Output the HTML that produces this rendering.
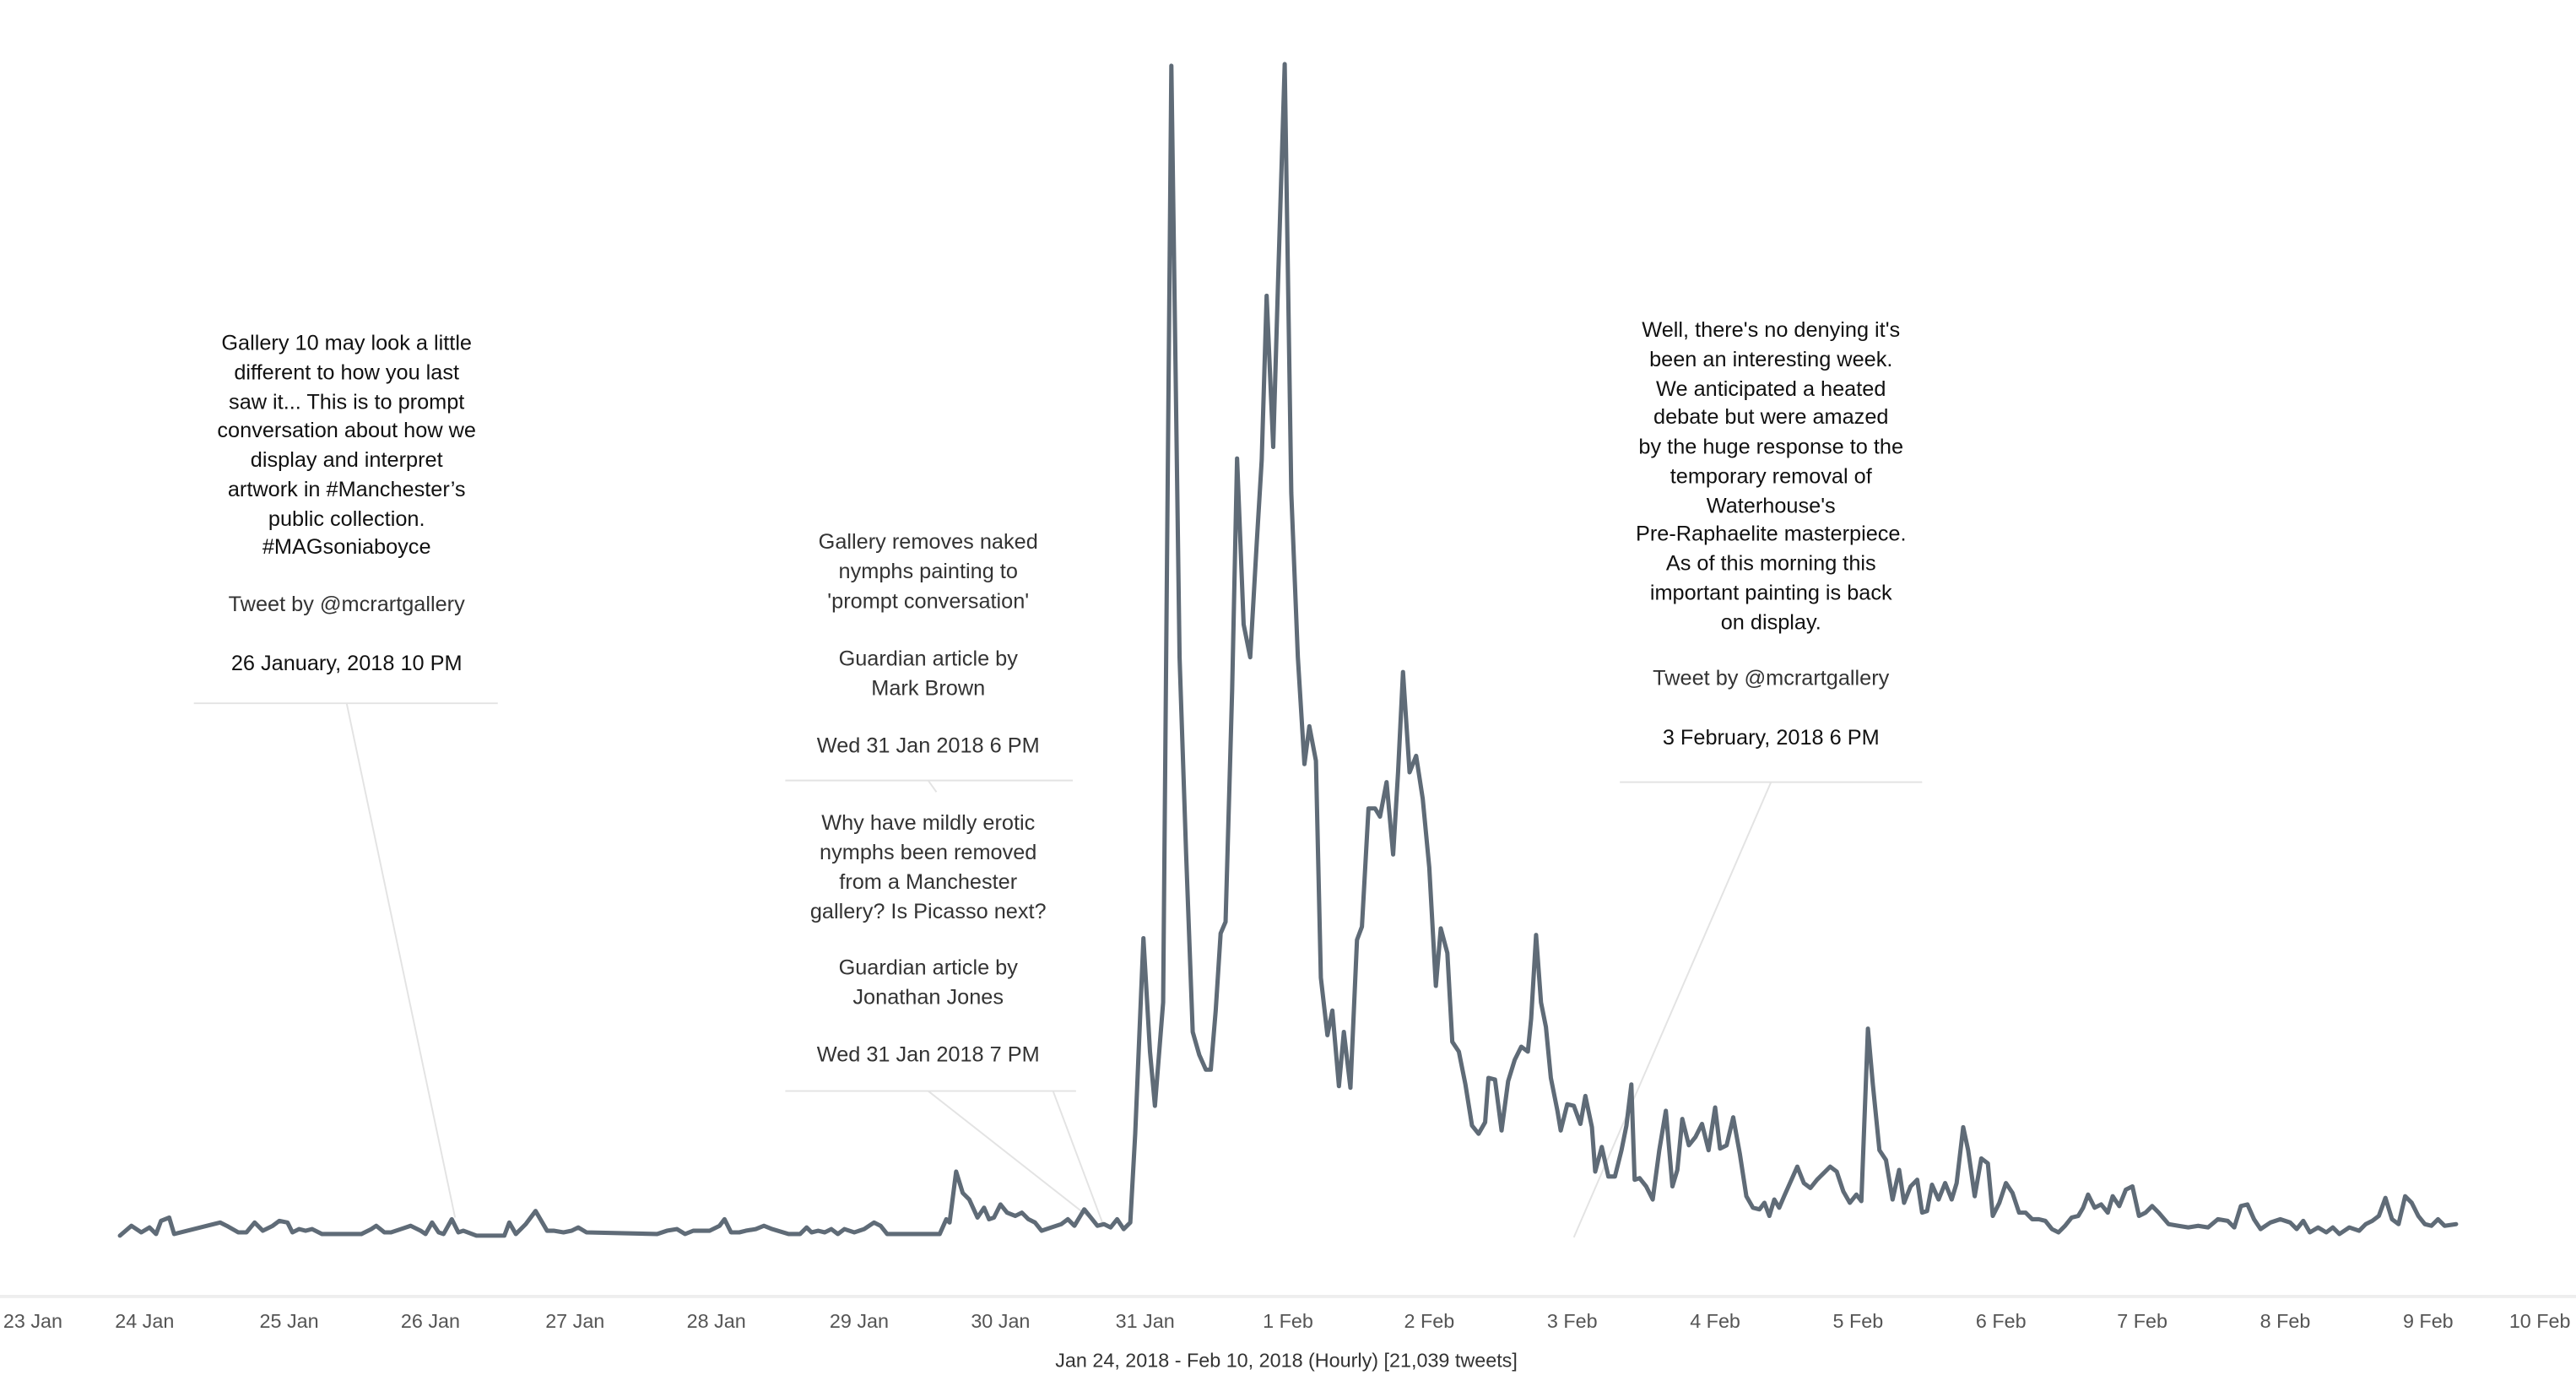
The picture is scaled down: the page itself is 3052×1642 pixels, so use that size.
<!DOCTYPE html>
<html><head><meta charset="utf-8"><style>
html,body{margin:0;padding:0;background:#fff;}
svg{display:block;}
text{font-family:"Liberation Sans",sans-serif;}
.a{font-size:13px;fill:#111;text-anchor:middle;}
.g{fill:#333;}
.t{font-size:12px;fill:#555;text-anchor:middle;}
</style></head><body>
<svg width="3052" height="1642" viewBox="0 0 1568 843.5" preserveAspectRatio="none">
<line x1="0" y1="789" x2="1568" y2="789" stroke="#eee" stroke-width="2"/>
<g class="t">
<text x="20" y="808">23 Jan</text><text x="88" y="808">24 Jan</text><text x="176" y="808">25 Jan</text>
<text x="262" y="808">26 Jan</text><text x="350" y="808">27 Jan</text><text x="436" y="808">28 Jan</text>
<text x="523" y="808">29 Jan</text><text x="609" y="808">30 Jan</text><text x="697" y="808">31 Jan</text>
<text x="784" y="808">1 Feb</text><text x="870" y="808">2 Feb</text><text x="957" y="808">3 Feb</text>
<text x="1044" y="808">4 Feb</text><text x="1131" y="808">5 Feb</text><text x="1218" y="808">6 Feb</text>
<text x="1304" y="808">7 Feb</text><text x="1391" y="808">8 Feb</text><text x="1478" y="808">9 Feb</text>
<text x="1546" y="808">10 Feb</text>
<text x="783" y="832" style="fill:#333">Jan 24, 2018 - Feb 10, 2018 (Hourly) [21,039 tweets]</text>
</g>
<g stroke="#e3e3e3" stroke-width="1" fill="none">
<line x1="118" y1="428" x2="303" y2="428"/><line x1="211" y1="428" x2="277" y2="741"/>
<line x1="478" y1="475" x2="653" y2="475"/><line x1="565" y1="475" x2="570" y2="482"/>
<line x1="478" y1="664" x2="655" y2="664"/><line x1="565" y1="664" x2="667" y2="744"/><line x1="641" y1="664" x2="671" y2="744"/>
<line x1="986" y1="476" x2="1170" y2="476"/><line x1="1078" y1="476" x2="958" y2="753"/>
</g>
<g class="a">
<text x="211" y="213">Gallery 10 may look a little</text>
<text x="211" y="231">different to how you last</text>
<text x="211" y="249">saw it... This is to prompt</text>
<text x="211" y="266">conversation about how we</text>
<text x="211" y="284">display and interpret</text>
<text x="211" y="302">artwork in #Manchester’s</text>
<text x="211" y="320">public collection.</text>
<text x="211" y="337">#MAGsoniaboyce</text>
<text x="211" y="372" class="g">Tweet by @mcrartgallery</text>
<text x="211" y="408">26 January, 2018 10 PM</text>

<text x="565" y="334" class="g">Gallery removes naked</text>
<text x="565" y="352" class="g">nymphs painting to</text>
<text x="565" y="370" class="g">'prompt conversation'</text>
<text x="565" y="405" class="g">Guardian article by</text>
<text x="565" y="423" class="g">Mark Brown</text>
<text x="565" y="458" class="g">Wed 31 Jan 2018 6 PM</text>

<text x="565" y="505" class="g">Why have mildly erotic</text>
<text x="565" y="523" class="g">nymphs been removed</text>
<text x="565" y="541" class="g">from a Manchester</text>
<text x="565" y="559" class="g">gallery? Is Picasso next?</text>
<text x="565" y="593" class="g">Guardian article by</text>
<text x="565" y="611" class="g">Jonathan Jones</text>
<text x="565" y="646" class="g">Wed 31 Jan 2018 7 PM</text>

<text x="1078" y="205">Well, there's no denying it's</text>
<text x="1078" y="223">been an interesting week.</text>
<text x="1078" y="241">We anticipated a heated</text>
<text x="1078" y="258">debate but were amazed</text>
<text x="1078" y="276">by the huge response to the</text>
<text x="1078" y="294">temporary removal of</text>
<text x="1078" y="312">Waterhouse's</text>
<text x="1078" y="329">Pre-Raphaelite masterpiece.</text>
<text x="1078" y="347">As of this morning this</text>
<text x="1078" y="365">important painting is back</text>
<text x="1078" y="383">on display.</text>
<text x="1078" y="417" class="g">Tweet by @mcrartgallery</text>
<text x="1078" y="453">3 February, 2018 6 PM</text>
</g>
<polyline fill="none" stroke="#5f6b77" stroke-width="2.6" stroke-linejoin="round" stroke-linecap="round" points="73,752 80,746 86,750 91,747 95,751 98,743 103,741 106,751 134,744 138,746 145,750 150,750 155,744 160,749 166,746 170,743 175,744 178,750 182,748 186,749 190,748 196,751 220,751 226,748 229,746 234,750 238,750 244,748 250,746 256,749 259,751 263,744 267,750 270,751 275,742 279,750 282,749 290,752 307,752 310,744 314,751 320,745 326,737 333,749 337,749 343,750 348,749 352,747 357,750 400,751 406,749 412,748 417,751 422,749 432,749 438,746 441,742 445,750 450,750 454,749 460,748 465,746 470,748 480,751 487,751 491,747 494,750 498,749 502,750 506,748 510,751 514,748 520,750 526,748 532,744 536,746 540,751 572,751 576,742 578,744 582,713 586,726 590,730 595,741 599,735 602,742 605,741 609,733 613,738 618,740 622,738 626,742 630,744 634,749 640,747 646,745 650,742 654,746 660,736 664,741 668,746 672,745 676,747 680,742 684,748 688,744 691,690 696,571 700,640 703,673 708,610 713,40 718,400 722,520 726,628 730,642 734,651 737,651 740,615 743,568 746,561 750,420 753,279 757,380 761,400 765,330 768,280 771,180 775,272 778,170 782,39 786,300 790,400 794,465 797,442 801,463 804,595 808,630 811,615 815,661 818,628 822,662 826,572 829,564 833,492 837,492 840,497 844,476 848,520 851,470 854,409 858,470 862,460 866,486 870,528 874,600 877,565 881,580 884,634 888,640 892,660 896,685 900,690 904,683 906,656 910,657 914,688 918,658 922,645 926,637 930,640 932,620 935,569 938,610 941,625 944,656 948,676 950,688 954,672 958,673 962,684 965,667 969,686 971,713 975,698 979,716 983,716 987,700 990,685 993,660 995,718 998,717 1002,722 1006,730 1010,700 1014,676 1018,722 1021,712 1024,681 1028,697 1032,692 1036,684 1040,700 1044,674 1047,699 1051,697 1055,680 1059,702 1063,728 1067,735 1071,736 1074,732 1077,740 1080,730 1083,735 1086,728 1090,719 1094,710 1098,720 1102,723 1106,718 1110,714 1114,710 1118,713 1122,725 1126,732 1130,727 1133,731 1137,626 1140,660 1144,700 1148,706 1152,730 1156,712 1159,732 1163,722 1167,718 1170,738 1173,737 1176,721 1180,730 1184,720 1188,730 1191,720 1195,686 1198,700 1202,728 1206,705 1210,708 1213,740 1217,732 1221,720 1225,726 1229,738 1233,738 1237,742 1241,742 1245,743 1249,748 1253,750 1257,746 1261,741 1265,740 1268,735 1271,727 1275,735 1279,733 1283,738 1286,728 1290,734 1294,724 1298,722 1302,740 1306,738 1310,734 1314,738 1320,745 1326,746 1332,747 1338,746 1344,747 1350,742 1356,743 1360,747 1364,734 1368,733 1372,742 1376,748 1382,744 1388,742 1394,744 1398,748 1402,743 1406,750 1411,747 1416,750 1420,747 1424,751 1430,747 1436,749 1440,745 1444,743 1448,740 1452,729 1456,742 1460,745 1464,728 1468,732 1472,740 1476,745 1480,746 1484,742 1488,746 1495,745"/>
</svg>
</body></html>
